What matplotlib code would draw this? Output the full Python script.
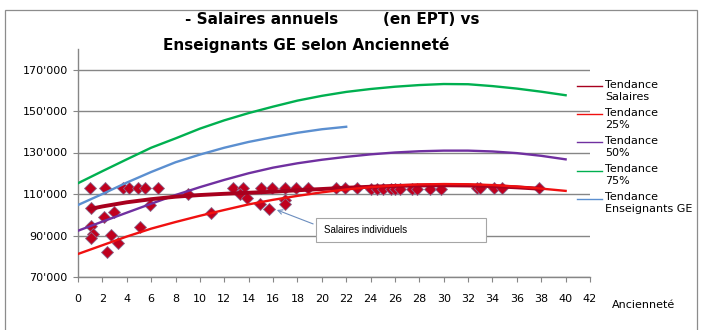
import matplotlib
matplotlib.use("Agg")
import matplotlib.pyplot as plt
from matplotlib.lines import Line2D
from matplotlib.patches import Rectangle
from matplotlib.ticker import FuncFormatter

# ---------------- data (salaries in CHF) ----------------
trend_years = [0, 2, 4, 6, 8, 10, 12, 14, 16, 18, 20, 22, 24, 26, 28, 30, 32, 34, 36, 38, 40]
tend_25 = [81100, 85300, 89500, 93300, 96500, 99500, 102300, 105000, 107200, 109100, 110800,
           112200, 113300, 114100, 114600, 114800, 114700, 114300, 113600, 112600, 111500]
tend_50 = [92300, 96700, 101000, 105300, 109500, 113300, 116800, 120000, 122700, 124800, 126500,
           127900, 129100, 130000, 130600, 130900, 130900, 130500, 129700, 128400, 126700]
tend_75 = [115200, 121000, 126700, 132300, 136800, 141500, 145500, 149000, 152100, 155000, 157300,
           159200, 160600, 161700, 162500, 163000, 162900, 162000, 160800, 159300, 157600]

ens_years = [0, 2, 4, 6, 8, 10, 12, 14, 16, 18, 20, 22]
ens_ge = [104700, 110000, 115500, 120600, 125300, 129000, 132300, 135100, 137400, 139500, 141200, 142400]

sal_years = [1, 2, 4, 6, 8, 10, 12, 14, 16, 18, 20, 22, 24, 26, 28, 30, 32, 34, 36, 38]
tend_sal = [102800, 104000, 106000, 107500, 108700, 109500, 110100, 110600, 111100, 111800, 112400,
            113000, 113500, 113900, 114100, 114200, 114100, 113800, 113200, 112500]

ind_years = [1.0, 2.2, 3.7, 4.2, 4.9, 5.5, 6.6,
             1.1, 2.1, 2.95, 5.9, 1.1, 1.2, 1.1, 2.7, 3.3, 2.4, 5.06,
             9.0, 10.9, 12.7, 13.5, 13.3, 13.9, 15.0, 15.9, 14.9, 15.7,
             17.0, 17.0, 17.0, 17.9, 18.9,
             21.2, 21.9, 22.9, 24.0, 24.5, 25.0, 25.7, 26.0, 26.4, 27.4, 27.8, 28.9, 29.8,
             32.7, 33.0, 34.1, 34.8, 37.8]
ind_sal = [113000, 113000, 113000, 113000, 113000, 113000, 113000,
           103100, 98800, 101200, 104700, 94700, 90600, 88700, 90300, 86300, 82200, 94200,
           110000, 100700, 113000, 113000, 110000, 108000, 113000, 113000, 105000, 102800,
           113000, 107000, 105000, 113000, 113000,
           112800, 112800, 112800, 112600, 112600, 112600, 112500, 112500, 112500, 112500, 112500, 112500, 112500,
           112800, 112800, 112800, 112800, 113000]

legend_labels = ["Tendance\nSalaires", "Tendance\n25%", "Tendance\n50%", "Tendance\n75%", "Tendance\nEnseignants GE"]
x_ticks = list(range(0, 43, 2))
y_ticks = [70000, 90000, 110000, 130000, 150000, 170000]

# ---------------- styling ----------------
C_SAL = "#A8001E"
C_25 = "#F01010"
C_50 = "#7030A0"
C_75 = "#00B050"
C_ENS = "#5B8FD0"
GRID = "#868686"

W, H = 709, 330
fig = plt.figure(figsize=(W / 100, H / 100), dpi=100)
fig.patch.set_facecolor("white")

def fx(px):
    return px / W

def fy(py):
    return 1 - py / H

# outer chart border
fig.patches.append(Rectangle((fx(4.5), fy(340)), fx(697) - fx(4.5), fy(10) - fy(340),
                             transform=fig.transFigure, fill=False, edgecolor="#8C8C8C", lw=0.9))

ax = fig.add_axes([fx(78), fy(277), fx(590) - fx(78), fy(48.75) - fy(277)])
ax.set_xlim(0, 42)
ax.set_ylim(70000, 180000)
ax.set_xticks(x_ticks)
ax.set_yticks(y_ticks)
ax.yaxis.set_major_formatter(FuncFormatter(lambda v, p: f"{int(v):,}".replace(",", "'")))
ax.grid(axis="y", color=GRID, lw=1.0)
ax.set_axisbelow(True)
for s in ["top", "right"]:
    ax.spines[s].set_visible(False)
for s in ["left", "bottom"]:
    ax.spines[s].set_color(GRID)
    ax.spines[s].set_linewidth(1.0)
ax.tick_params(axis="both", colors=GRID, length=3.5, width=0.8, labelcolor="black", labelsize=8)
ax.tick_params(axis="x", pad=9)
ax.tick_params(axis="y", pad=4)

# markers (individual salaries)
ax.plot(ind_years, ind_sal, linestyle="none", marker="D", markersize=5.8,
        markerfacecolor="#C0001E", markeredgecolor="#8A6A8E", markeredgewidth=0.6, zorder=3)

# trend lines
ax.plot(trend_years, tend_75, color=C_75, lw=1.7, zorder=4)
ax.plot(ens_years, ens_ge, color=C_ENS, lw=1.7, zorder=4)
ax.plot(trend_years, tend_50, color=C_50, lw=1.7, zorder=4)
ax.plot(sal_years, tend_sal, color=C_SAL, lw=2.8, zorder=4)
ax.plot(trend_years, tend_25, color=C_25, lw=1.7, zorder=5)

# annotation box
ax.add_patch(Rectangle((19.5, 87000), 33.45 - 19.5, 98290 - 87000, facecolor="white",
                       edgecolor="#A6A6A6", lw=0.8, zorder=6))
ax.text(20.2, 92650, "Salaires individuels", fontsize=7, family="Liberation Sans",
        va="center", ha="left", zorder=7)
ax.annotate("", xy=(16.1, 102800), xytext=(19.5, 95100),
            arrowprops=dict(arrowstyle="->", color="#6C8EBF", lw=0.8, mutation_scale=8), zorder=7)

# title
fig.text(fx(185), fy(20), "- Salaires annuels", fontsize=11, fontweight="bold",
         family="DejaVu Sans", va="center", ha="left")
fig.text(fx(383), fy(20), "(en EPT) vs", fontsize=11, fontweight="bold",
         family="DejaVu Sans", va="center", ha="left")
fig.text(fx(306), fy(45), "Enseignants GE selon Ancienneté", fontsize=11, fontweight="bold",
         family="DejaVu Sans", va="center", ha="center")

# x axis title
fig.text(fx(612), fy(305), "Ancienneté", fontsize=8, va="center", ha="left")

# legend (manual)
colors = [C_SAL, C_25, C_50, C_75, C_ENS]
for i, (lab, c) in enumerate(zip(legend_labels, colors)):
    y0 = 86 + i * 28.2
    fig.add_artist(Line2D([fx(577), fx(602)], [fy(y0), fy(y0)], color=c, lw=1.0,
                          transform=fig.transFigure))
    fig.text(fx(605), fy(y0 - 6.5), lab, fontsize=8, va="top", ha="left", linespacing=1.25)

fig.savefig("out.png", dpi=100)
